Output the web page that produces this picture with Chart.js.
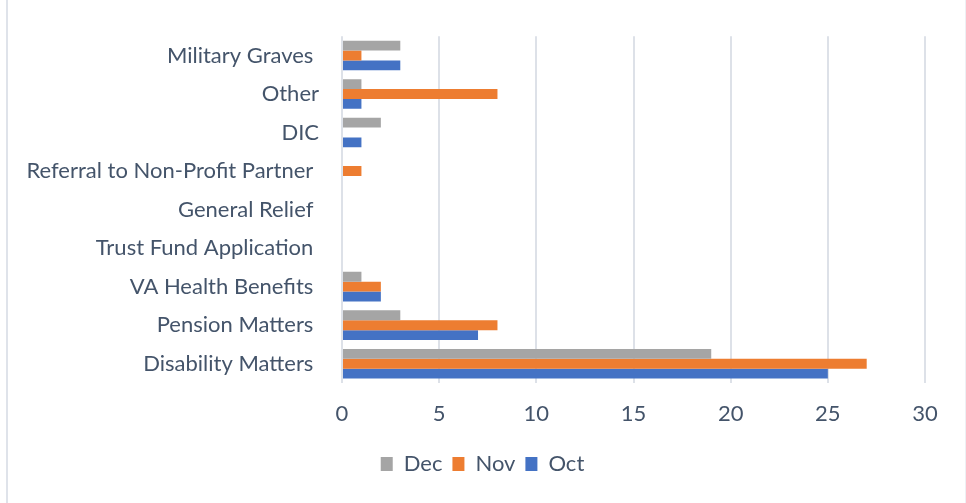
<!DOCTYPE html>
<html lang="en">
<head>
    <meta charset="UTF-8" />
    <title>Requests by category</title>
    <script src="https://cdn.jsdelivr.net/npm/chart.js@4.4.1/dist/chart.umd.min.js"></script>
    <style>
        * {
            margin: 0;
            padding: 0;
            box-sizing: border-box;
        }

        body {
            width: 966px;
            height: 503px;
            background: #ffffff;
            overflow: hidden;
        }

        .frame {
            position: absolute;
            left: 6px;
            top: 0;
            width: 960px;
            height: 503px;
            border-left: 2px solid #dfe3ea;
            border-right: 1px solid #eef0f4;
        }

        #chart {
            position: absolute;
            left: 0;
            top: 0;
        }
    </style>
</head>
<body>
    <div class="frame"></div>
    <canvas id="chart" width="966" height="503"></canvas>
    <script>
        // categories, top to bottom (trailing spaces as in the source sheet)
        const categories = [
            "Military Graves ",
            "Other",
            "DIC",
            "Referral to Non-Profit Partner ",
            "General Relief ",
            "Trust Fund Application ",
            "VA Health Benefits ",
            "Pension Matters ",
            "Disability Matters "
        ];

        const decValues = [3, 1, 2, 0, 0, 0, 1, 3, 19];
        const novValues = [1, 8, 0, 1, 0, 0, 2, 8, 27];
        const octValues = [3, 1, 1, 0, 0, 0, 2, 7, 25];

        const xTicks = [0, 5, 10, 15, 20, 25, 30];

        const textColor = "#44546a";
        const font = { family: "Lato, 'Open Sans', sans-serif", size: 22 };

        // nudge the legend so it sits centred on the page, not on the padded area
        const legendShift = {
            id: "legendShift",
            afterLayout(chart) {
                const lg = chart.legend;
                lg.left += 20;
                lg.right += 20;
            }
        };

        const ctx = document.getElementById("chart");

        new Chart(ctx, {
            type: "bar",
            plugins: [legendShift],
            data: {
                labels: categories,
                datasets: [
                    { label: "Dec", data: decValues, backgroundColor: "#a5a5a5" },
                    { label: "Nov", data: novValues, backgroundColor: "#ed7d31" },
                    { label: "Oct", data: octValues, backgroundColor: "#4472c4" }
                ]
            },
            options: {
                indexAxis: "y",
                responsive: false,
                animation: false,
                datasets: {
                    bar: { categoryPercentage: 0.77, barPercentage: 1.0 }
                },
                layout: {
                    padding: { top: 33, right: 41, bottom: 18, left: 0 }
                },
                scales: {
                    x: {
                        min: 0,
                        max: 30,
                        afterBuildTicks: (scale) => {
                            scale.ticks = xTicks.map(v => ({ value: v }));
                        },
                        afterFit: (scale) => { scale.height = 60; },
                        grid: { color: "#dde1e8", lineWidth: 2, drawTicks: false },
                        border: { display: false },
                        ticks: { color: textColor, font: font, padding: 18 }
                    },
                    y: {
                        afterFit: (scale) => { scale.width = 342; },
                        grid: { display: false, drawTicks: false },
                        border: { display: false },
                        ticks: { color: textColor, font: font, padding: 23, autoSkip: false }
                    }
                },
                plugins: {
                    tooltip: { enabled: false },
                    legend: {
                        position: "bottom",
                        labels: {
                            color: textColor,
                            font: font,
                            boxWidth: 12,
                            boxHeight: 14,
                            padding: 10
                        }
                    }
                }
            }
        });
    </script>
</body>
</html>
